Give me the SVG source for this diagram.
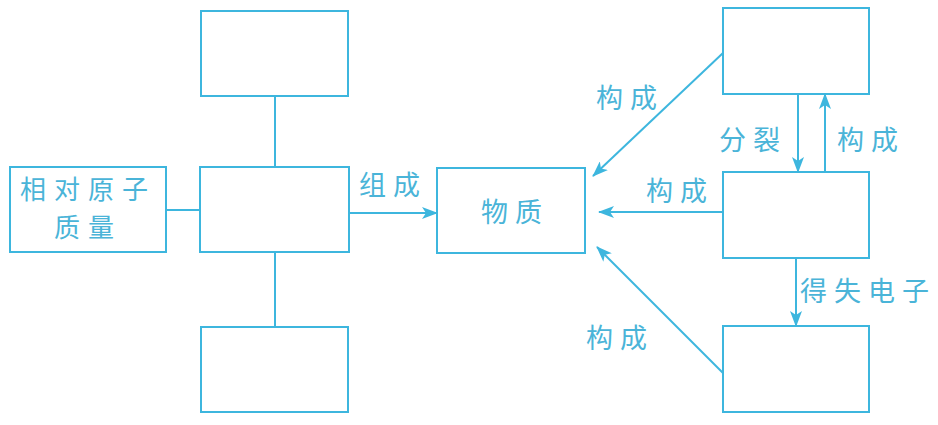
<svg xmlns="http://www.w3.org/2000/svg" width="938" height="425" viewBox="0 0 938 425">
<style>
.box{fill:none;stroke:#3db6de;stroke-width:2}
.ln{fill:none;stroke:#3db6de;stroke-width:2}
.t{font-family:"Noto Sans CJK SC","Noto Sans CJK JP",sans-serif;font-size:27px;fill:#4ab4d8;letter-spacing:7px}
.s{font-size:26px;letter-spacing:8px}
</style>
<defs>
<marker id="ah" markerWidth="16" markerHeight="12" refX="15" refY="6" orient="auto" markerUnits="userSpaceOnUse">
<path d="M0,0 L16,6 L0,12 L4,6 Z" fill="#3db6de"/>
</marker>
</defs>
<rect width="938" height="425" fill="#fff"/>
<g id="n-rel"><rect class="box" x="10" y="167" width="156" height="85"/>
<text class="t s" x="20" y="199">相对原子</text><text class="t s" x="54" y="237">质量</text></g>
<g id="n-mid"><rect class="box" x="200" y="167" width="149" height="85"/></g>
<g id="n-top"><rect class="box" x="201" y="11" width="147" height="85"/></g>
<g id="n-bot"><rect class="box" x="201" y="327" width="147" height="85"/></g>
<g id="n-matter"><rect class="box" x="437" y="168" width="148" height="85"/>
<text class="t" x="481" y="222">物质</text></g>
<g id="n-r1"><rect class="box" x="723" y="8" width="146" height="86"/></g>
<g id="n-r2"><rect class="box" x="723" y="172" width="146" height="86"/></g>
<g id="n-r3"><rect class="box" x="723" y="326" width="146" height="86"/></g>
<g id="connectors">
<line class="ln" x1="166" y1="210" x2="200" y2="210"/>
<line class="ln" x1="275" y1="96" x2="275" y2="167"/>
<line class="ln" x1="275" y1="252" x2="275" y2="327"/>
<line class="ln" x1="349" y1="213" x2="437" y2="213" marker-end="url(#ah)"/>
<line class="ln" x1="723" y1="53" x2="593" y2="176" marker-end="url(#ah)"/>
<line class="ln" x1="723" y1="212" x2="599" y2="212" marker-end="url(#ah)"/>
<line class="ln" x1="723" y1="373" x2="597" y2="247" marker-end="url(#ah)"/>
<line class="ln" x1="798" y1="94" x2="798" y2="172" marker-end="url(#ah)"/>
<line class="ln" x1="825" y1="172" x2="825" y2="94" marker-end="url(#ah)"/>
<line class="ln" x1="796" y1="258" x2="796" y2="326" marker-end="url(#ah)"/>
<text class="t" x="359" y="195">组成</text>
<text class="t" x="596" y="108">构成</text>
<text class="t" x="719" y="150">分裂</text>
<text class="t" x="837" y="150">构成</text>
<text class="t" x="646" y="201">构成</text>
<text class="t" x="800" y="301">得失电子</text>
<text class="t" x="586" y="348">构成</text>
</g>
</svg>
